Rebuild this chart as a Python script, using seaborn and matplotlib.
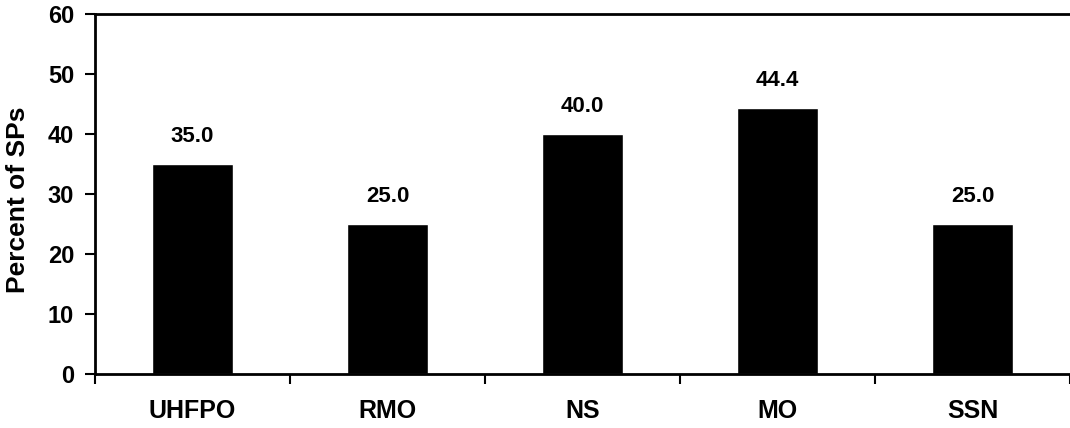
import numpy as np
import pandas as pd
import matplotlib
matplotlib.use("Agg")
import matplotlib.pyplot as plt
import seaborn as sns
from matplotlib.ticker import FixedLocator

categories = ["UHFPO", "RMO", "NS", "MO", "SSN"]
percent = [35.0, 25.0, 40.0, 44.4, 25.0]

df = pd.DataFrame({"role": categories, "pct": percent})

sns.set_style("white")
plt.rcParams["font.family"] = ["Liberation Sans", "DejaVu Sans"]
plt.rcParams["font.weight"] = "bold"
plt.rcParams["text.color"] = "black"
plt.rcParams["xtick.color"] = "black"
plt.rcParams["ytick.color"] = "black"
plt.rcParams["axes.labelcolor"] = "black"

fig = plt.figure(figsize=(10.7, 4.28), dpi=100)
ax = fig.add_axes([95 / 1070, 54 / 428, 975 / 1070, 360 / 428])

sns.barplot(data=df, x="role", y="pct", color="black", width=0.42,
            saturation=1, ax=ax)

# labels over the bars
for i, v in enumerate(percent):
    ax.annotate(f"{v:.1f}", (i, v), xytext=(0, 12), textcoords="offset points",
                ha="center", va="bottom", fontsize=16, fontweight="bold",
                color="black")

ax.set_xlim(-0.5, len(categories) - 0.5)
ax.set_ylim(0, 60)
ax.set_yticks(np.arange(0, 61, 10))
ax.xaxis.set_minor_locator(FixedLocator(np.arange(-0.5, len(categories), 1.0)))
ax.tick_params(axis="x", which="major", length=0, pad=18, labelsize=18)
ax.tick_params(axis="x", which="minor", length=7, width=1.5, direction="out",
               bottom=True)
ax.tick_params(axis="y", length=7, width=1.5, direction="out", left=True,
               labelsize=17, pad=8)
for lab in ax.get_xticklabels() + ax.get_yticklabels():
    lab.set_fontweight("bold")

ax.set_xlabel("")
ax.set_ylabel("Percent of SPs", fontsize=19, fontweight="bold")
ax.yaxis.set_label_coords(-0.067, 0.485)

for side in ["left", "bottom", "top"]:
    ax.spines[side].set_visible(True)
    ax.spines[side].set_color("black")
    ax.spines[side].set_linewidth(2)
ax.spines["right"].set_visible(False)

fig.savefig("out.png", dpi=100)
